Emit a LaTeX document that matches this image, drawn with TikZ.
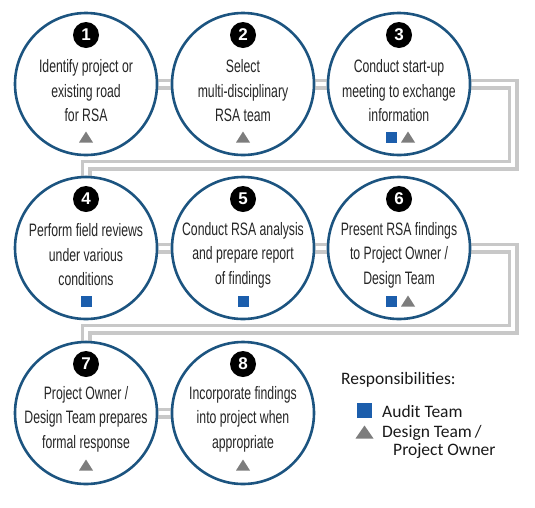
\documentclass[tikz,border=0pt]{standalone}
\usepackage{fontspec}
\setmainfont{Carlito}
\newfontfamily\condfont[FakeStretch=0.68]{Liberation Sans}
\newfontfamily\numfont{Liberation Sans}
\usetikzlibrary{backgrounds}
\definecolor{ringblue}{RGB}{28,84,128}
\definecolor{audblue}{RGB}{28,94,172}
\definecolor{trigray}{RGB}{125,125,125}
\definecolor{pipegray}{RGB}{200,200,200}
\tikzset{
  stepcircle/.style={circle, draw=ringblue, line width=2.6pt, fill=white, minimum size=142pt, inner sep=0pt},
  badge/.style={circle, fill=black, minimum size=26pt, inner sep=0pt, text=white, font=\numfont\bfseries\fontsize{17}{17}\selectfont},
  steptext/.style={align=center, font=\condfont\fontsize{18}{24.5}\selectfont, text=black!85, inner sep=0pt},
  pipe/.style={draw=pipegray, line width=3.75pt, double=white, double distance=3.5pt},
  legtext/.style={anchor=west, font=\fontsize{17.5}{18}\selectfont, text=black!90, inner sep=0pt},
  sqmark/.pic={\fill[audblue] (-5.5,-5.5) rectangle (5.5,5.5);},
  trimark/.pic={\fill[trigray] (-7,5.5) -- (7,5.5) -- (0,-5.5) -- cycle;},
  bigsq/.pic={\fill[audblue] (-7.5,-7.5) rectangle (7.5,7.5);},
  bigtri/.pic={\fill[trigray] (-9,6.5) -- (9,6.5) -- (0,-6.5) -- cycle;}
}
\begin{document}
\begin{tikzpicture}[x=1pt,y=-1pt]
\useasboundingbox (0,0) rectangle (535,507);
% circles
\node[stepcircle] (s1) at (86,84) {};
\node[stepcircle] (s2) at (243,84) {};
\node[stepcircle] (s3) at (399,84) {};
\node[stepcircle] (s4) at (86,248) {};
\node[stepcircle] (s5) at (243,248) {};
\node[stepcircle] (s6) at (399,248) {};
\node[stepcircle] (s7) at (86,413) {};
\node[stepcircle] (s8) at (243,413) {};
% pipes
\begin{scope}[on background layer]
  \draw[pipe] (s1.center) -- (s3.center) -- (513,84) -- (513,165) -| (s4.center);
  \draw[pipe] (s4.center) -- (s6.center) -- (513,248) -- (513,329) -| (s7.center);
  \draw[pipe] (s7.center) -- (s8.center);
\end{scope}
% badges
\foreach \i in {1,...,8} {
  \node[badge] (b\i) at ([yshift=49pt]s\i.center) {\i};
}
% texts
\node[steptext] (t1) at ([yshift=-7pt]s1.center) {Identify project or\\existing road\\for RSA};
\node[steptext] (t2) at ([yshift=-7pt]s2.center) {Select\\multi-disciplinary\\RSA team};
\node[steptext] (t3) at ([yshift=-7pt]s3.center) {Conduct start-up\\meeting to exchange\\information};
\node[steptext] (t4) at ([yshift=-7pt]s4.center) {Perform field reviews\\under various\\conditions};
\node[steptext] (t5) at ([yshift=-7pt]s5.center) {Conduct RSA analysis\\and prepare report\\of findings};
\node[steptext] (t6) at ([yshift=-7pt]s6.center) {Present RSA findings\\to Project Owner /\\Design Team};
\node[steptext] (t7) at ([yshift=-6pt]s7.center) {Project Owner /\\Design Team prepares\\formal response};
\node[steptext] (t8) at ([yshift=-6pt]s8.center) {Incorporate findings\\into project when\\appropriate};
% symbols
\pic at ([yshift=-53pt]s1.center) {trimark};
\pic at ([yshift=-53pt]s2.center) {trimark};
\pic at ([xshift=-8pt,yshift=-53pt]s3.center) {sqmark};
\pic at ([xshift=9pt,yshift=-53pt]s3.center) {trimark};
\pic at ([yshift=-53pt]s4.center) {sqmark};
\pic at ([yshift=-53pt]s5.center) {sqmark};
\pic at ([xshift=-8pt,yshift=-53pt]s6.center) {sqmark};
\pic at ([xshift=9pt,yshift=-53pt]s6.center) {trimark};
\pic at ([yshift=-52pt]s7.center) {trimark};
\pic at ([yshift=-52pt]s8.center) {trimark};
% legend
\node[legtext] (legtitle) at (341,380) {Responsibilities:};
\pic at (364.5,410) {bigsq};
\node[legtext] (legaudit) at (382,411) {Audit Team};
\pic at (364.5,432) {bigtri};
\node[legtext, align=left] (legdesign) at (382,442) {Design Team\,/\\\hspace*{11pt}Project Owner};
\end{tikzpicture}
\end{document}
